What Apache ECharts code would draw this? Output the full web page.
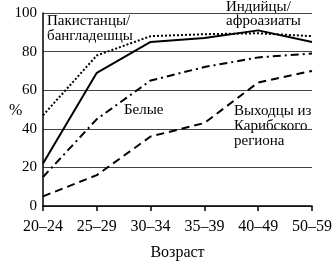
<!DOCTYPE html>
<html><head><meta charset="utf-8">
<script src="https://cdn.jsdelivr.net/npm/echarts@6/dist/echarts.min.js"></script>
<style>html,body{margin:0;padding:0;background:#fff}#c{width:336px;height:266px}</style>
</head><body><div id="c"></div>
<script>
var categories = ['20–24','25–29','30–34','35–39','40–49','50–59'];
var pakistani = [47, 78, 88, 89, 89.5, 88];
var indian = [22, 69, 85, 87, 91, 85];
var white = [15, 45, 65, 72, 77, 79];
var caribbean = [5, 16, 36, 43, 64, 70];
var yTicks = [0, 20, 40, 60, 80, 100];

var font = 'Liberation Serif';
var chart = echarts.init(document.getElementById('c'), null, {renderer:'canvas'});
function ser(name, data, type, width) {
  return {name:name, type:'line', data:data, symbol:'none', animation:false,
    lineStyle:{color:'#000', width:width, type:type}};
}
chart.setOption({
  animation:false,
  grid:{left:43, right:24, top:13, bottom:58},
  xAxis:{type:'category', data:categories, boundaryGap:false,
    axisLine:{lineStyle:{color:'#000', width:1.5}},
    axisTick:{show:true, inside:false, length:5, lineStyle:{color:'#000', width:1.5}},
    axisLabel:{color:'#000', fontFamily:font, fontSize:16, margin:13},
    name:'Возраст', nameLocation:'middle', nameGap:39,
    nameTextStyle:{color:'#000', fontFamily:font, fontSize:16}},
  yAxis:{type:'value', min:0, max:100, interval:20,
    axisLine:{show:true, lineStyle:{color:'#000', width:1.5}},
    axisTick:{show:false},
    splitLine:{lineStyle:{color:'#444', width:1}},
    axisLabel:{color:'#000', fontFamily:font, fontSize:15, margin:6,
      formatter:function(v){return yTicks.indexOf(v)>=0 ? String(v) : '';}}},
  graphic:[
    {type:'text', left:9, top:103, style:{text:'%', font:'16px "Liberation Serif"', fill:'#000'}},
    {type:'text', left:47, top:14, style:{text:'Пакистанцы/\nбангладешцы', font:'15px "Liberation Serif"', fill:'#000', lineHeight:15}},
    {type:'text', left:226, top:0, style:{text:'Индийцы/\nафроазиаты', font:'15px "Liberation Serif"', fill:'#000', lineHeight:14}},
    {type:'text', left:124, top:103, style:{text:'Белые', font:'15px "Liberation Serif"', fill:'#000'}},
    {type:'text', left:234, top:104, style:{text:'Выходцы из\nКарибского\nрегиона', font:'15px "Liberation Serif"', fill:'#000', lineHeight:15}}
  ],
  series:[
    ser('Пакистанцы/бангладешцы', pakistani, [2,2], 2),
    ser('Индийцы/афроазиаты', indian, 'solid', 2),
    ser('Белые', white, [8,4,2,4], 2),
    ser('Выходцы из Карибского региона', caribbean, [8,5], 2)
  ]
});
</script></body></html>
